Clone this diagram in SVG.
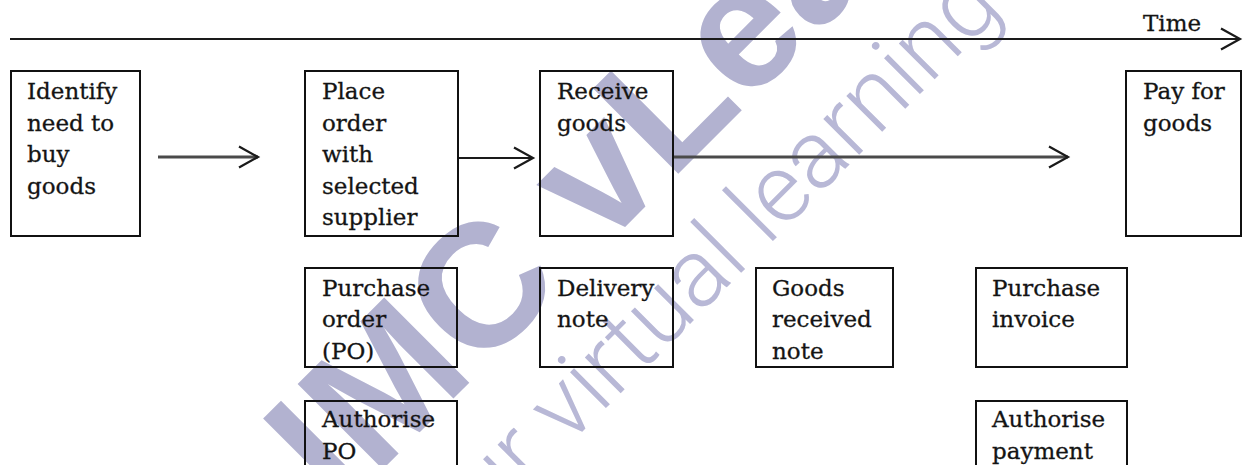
<svg xmlns="http://www.w3.org/2000/svg" width="1243" height="465" viewBox="0 0 1243 465">
  <defs>
    <style>
      .box { fill: none; stroke: #111; stroke-width: 2; }
      .lbl { font-family: "DejaVu Serif", "Liberation Serif", serif; font-size: 23px; fill: #141414; stroke: #141414; stroke-width: 0.3; }
      .wm-big { font-family: "Liberation Sans", Arial, sans-serif; font-weight: bold; font-size: 175px; fill: #b2b2d0; }
      .wm-thin { font-family: Roboto, "Open Sans", sans-serif; font-weight: 300; font-size: 96px; fill: #b8b8d6; }
      .conn { fill: none; }
    </style>
    <marker id="chev" markerUnits="userSpaceOnUse" markerWidth="26" markerHeight="28" refX="20" refY="13" orient="auto" overflow="visible">
      <path d="M1,2.5 L20,13 L1,23.5" fill="none" stroke="#1a1a1a" stroke-width="2.2"/>
    </marker>
  </defs>
  <rect width="1243" height="465" fill="#ffffff"/>

  <g id="watermark">
    <text class="wm-thin" transform="translate(421,593) rotate(-45)">your virtual learning</text>
    <text class="wm-big" transform="translate(340,512) rotate(-45)">IMC vLearning</text>
  </g>

  <g id="connectors" class="conn">
    <line x1="10" y1="39" x2="1240" y2="39" stroke="#1a1a1a" stroke-width="2" marker-end="url(#chev)"/>
    <line x1="158" y1="157" x2="258" y2="157" stroke="#4a4a4a" stroke-width="3" marker-end="url(#chev)"/>
    <line x1="458" y1="158" x2="533" y2="158" stroke="#1a1a1a" stroke-width="2" marker-end="url(#chev)"/>
    <line x1="673" y1="157" x2="1068" y2="157" stroke="#4a4a4a" stroke-width="3" marker-end="url(#chev)"/>
  </g>

  <g id="time-label">
    <text class="lbl" x="1143" y="31">Time</text>
  </g>

  <g id="identify">
    <rect class="box" x="11" y="71" width="129" height="165"/>
    <text class="lbl"><tspan x="27" y="99">Identify</tspan><tspan x="27" y="130.5">need to</tspan><tspan x="27" y="162">buy</tspan><tspan x="27" y="193.5">goods</tspan></text>
  </g>

  <g id="place-order">
    <rect class="box" x="305" y="71" width="153" height="165"/>
    <text class="lbl"><tspan x="322" y="99">Place</tspan><tspan x="322" y="130.5">order</tspan><tspan x="322" y="162">with</tspan><tspan x="322" y="193.5">selected</tspan><tspan x="322" y="225">supplier</tspan></text>
  </g>

  <g id="receive-goods">
    <rect class="box" x="540" y="71" width="133" height="165"/>
    <text class="lbl"><tspan x="557" y="99">Receive</tspan><tspan x="557" y="130.5">goods</tspan></text>
  </g>

  <g id="pay-for-goods">
    <rect class="box" x="1126" y="71" width="115" height="165"/>
    <text class="lbl"><tspan x="1143" y="99">Pay for</tspan><tspan x="1143" y="130.5">goods</tspan></text>
  </g>

  <g id="purchase-order">
    <rect class="box" x="305" y="268" width="152" height="99"/>
    <text class="lbl"><tspan x="322" y="295.5">Purchase</tspan><tspan x="322" y="327">order</tspan><tspan x="322" y="358.5">(PO)</tspan></text>
  </g>

  <g id="delivery-note">
    <rect class="box" x="540" y="268" width="133" height="99"/>
    <text class="lbl"><tspan x="557" y="295.5">Delivery</tspan><tspan x="557" y="327">note</tspan></text>
  </g>

  <g id="goods-received-note">
    <rect class="box" x="756" y="268" width="137" height="99"/>
    <text class="lbl"><tspan x="772" y="295.5">Goods</tspan><tspan x="772" y="327">received</tspan><tspan x="772" y="358.5">note</tspan></text>
  </g>

  <g id="purchase-invoice">
    <rect class="box" x="976" y="268" width="151" height="99"/>
    <text class="lbl"><tspan x="992" y="295.5">Purchase</tspan><tspan x="992" y="327">invoice</tspan></text>
  </g>

  <g id="authorise-po">
    <rect class="box" x="305" y="401" width="152" height="90"/>
    <text class="lbl"><tspan x="322" y="427">Authorise</tspan><tspan x="322" y="458.5">PO</tspan></text>
  </g>

  <g id="authorise-payment">
    <rect class="box" x="976" y="401" width="151" height="90"/>
    <text class="lbl"><tspan x="992" y="427">Authorise</tspan><tspan x="992" y="458.5">payment</tspan></text>
  </g>
</svg>
